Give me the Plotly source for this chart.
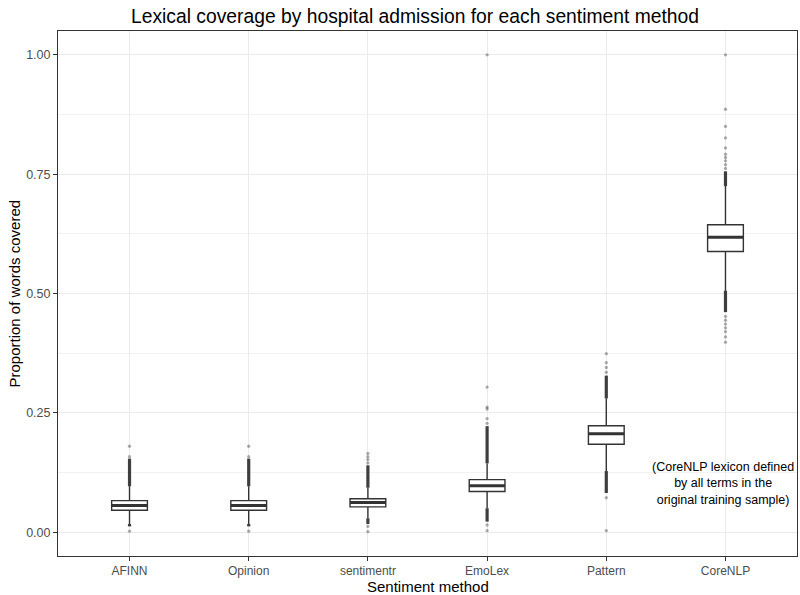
import plotly.graph_objects as go

# ---- data ----
methods = ["AFINN", "Opinion", "sentimentr", "EmoLex", "Pattern", "CoreNLP"]
q1 = [0.046, 0.046, 0.053, 0.085, 0.184, 0.588]
medians = [0.056, 0.056, 0.062, 0.097, 0.206, 0.618]
q3 = [0.066, 0.066, 0.070, 0.110, 0.223, 0.644]
lower_whisker = [0.017, 0.017, 0.029, 0.050, 0.128, 0.506]
upper_whisker = [0.096, 0.096, 0.093, 0.144, 0.280, 0.725]

# dense runs of outliers (low, high) that print as a solid streak
dense_upper = [(0.096, 0.154), (0.096, 0.154), (0.093, 0.140), (0.144, 0.222), (0.280, 0.328), (0.725, 0.756)]
dense_lower = [(0.012, 0.017), (0.012, 0.017), (0.017, 0.029), (0.022, 0.050), (0.082, 0.128), (0.461, 0.506)]

# individual (sparse) outliers
sparse_outliers = [
    [0.158, 0.180, 0.002],
    [0.158, 0.180, 0.002],
    [0.145, 0.152, 0.158, 0.165, 0.012, 0.001],
    [0.228, 0.238, 0.258, 0.262, 0.304, 1.000, 0.015, 0.003],
    [0.335, 0.345, 0.355, 0.374, 0.072, 0.003],
    [0.762, 0.770, 0.778, 0.785, 0.792, 0.805, 0.826, 0.850, 0.886, 1.000,
     0.452, 0.444, 0.436, 0.428, 0.420, 0.409, 0.398],
]

y_ticks = [0.0, 0.25, 0.5, 0.75, 1.0]
y_tick_labels = ["0.00", "0.25", "0.50", "0.75", "1.00"]

title = "Lexical coverage by hospital admission for each sentiment method"
x_title = "Sentiment method"
y_title = "Proportion of words covered"
note = "(CoreNLP lexicon defined<br>by all terms in the<br>original training sample)"
note_pos = (5, 0.102)

BOX_W = 0.3
FONT = "Liberation Sans, Arial, Helvetica, sans-serif"
positions = list(range(len(methods)))

fig = go.Figure()

# dense outlier streaks
for i in positions:
    for lo, hi in (dense_upper[i], dense_lower[i]):
        fig.add_trace(go.Scatter(
            x=[i, i], y=[lo, hi], mode="lines",
            line=dict(color="rgba(30,30,30,0.85)", width=3.2),
            hoverinfo="skip", showlegend=False))

# sparse outliers
ox, oy = [], []
for i in positions:
    for v in sparse_outliers[i]:
        ox.append(i)
        oy.append(v)
fig.add_trace(go.Scatter(
    x=ox, y=oy, mode="markers",
    marker=dict(color="rgba(0,0,0,0.32)", size=3.3, line=dict(width=0)),
    hoverinfo="skip", showlegend=False))

# boxes
fig.add_trace(go.Box(
    x=positions, q1=q1, median=medians, q3=q3,
    lowerfence=lower_whisker, upperfence=upper_whisker,
    boxpoints=False, width=BOX_W, whiskerwidth=0,
    fillcolor="white", line=dict(color="#333333", width=1.4),
    showlegend=False))

# thicker median lines (ggplot fatten)
for i in positions:
    fig.add_trace(go.Scatter(
        x=[i - BOX_W / 2, i + BOX_W / 2], y=[medians[i], medians[i]],
        mode="lines", line=dict(color="#333333", width=3),
        hoverinfo="skip", showlegend=False))

fig.update_layout(
    width=800, height=595,
    margin=dict(l=58, r=3, t=31, b=39),
    paper_bgcolor="white", plot_bgcolor="white",
    font=dict(family=FONT, color="black"),
    title=dict(text=title, x=415 / 800, xanchor="center",
               y=1 - 16 / 595, yanchor="middle",
               font=dict(size=19.3, color="black")),
    showlegend=False,
    annotations=[
        dict(text=x_title, xref="paper", yref="paper", x=0.5, y=0,
             yanchor="middle", yshift=-30, showarrow=False,
             font=dict(size=15, color="black")),
        dict(text=y_title, xref="paper", yref="paper", x=0, y=0.5,
             xanchor="center", xshift=-44, textangle=-90, showarrow=False,
             font=dict(size=15, color="black")),
        dict(text=note, x=note_pos[0], y=note_pos[1], xref="x", yref="y",
             showarrow=False, align="center", xshift=-2,
             font=dict(size=12.5, color="black")),
    ],
)

fig.update_xaxes(
    range=[-0.6, len(methods) - 0.4],
    tickvals=positions, ticktext=methods,
    showgrid=True, gridcolor="#ebebeb", gridwidth=1,
    zeroline=False,
    showline=True, linecolor="#333333", linewidth=1, mirror=True,
    ticks="outside", ticklen=4, tickcolor="#333333",
    tickfont=dict(size=12, color="#4d4d4d"),
)
fig.update_yaxes(
    range=[-0.05, 1.05],
    tickvals=y_ticks, ticktext=y_tick_labels,
    showgrid=True, gridcolor="#ebebeb", gridwidth=1,
    minor=dict(showgrid=True, gridcolor="#f2f2f2", gridwidth=0.6,
               tickvals=[0.125, 0.375, 0.625, 0.875]),
    zeroline=False,
    showline=True, linecolor="#333333", linewidth=1, mirror=True,
    ticks="outside", ticklen=4, tickcolor="#333333",
    tickfont=dict(size=12.5, color="#4d4d4d"),
)

fig.write_html("out.html",
               config={"displayModeBar": False},
               post_script="document.body.style.margin='0';document.body.style.overflow='hidden';")
